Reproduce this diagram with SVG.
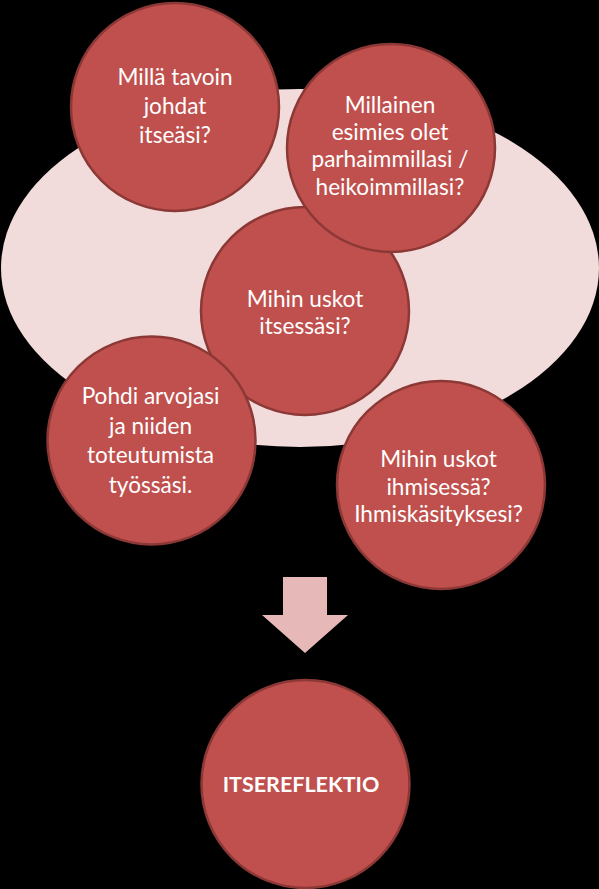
<svg xmlns="http://www.w3.org/2000/svg" width="599" height="889" viewBox="0 0 599 889">
<style>
.bg{fill:#000000}
.ell{fill:#f2dcdb}
.c{fill:#c0504d;stroke:#8c3836;stroke-width:2.5}
.t{font-family:Lato,"Liberation Sans",sans-serif;font-size:22.6px;fill:#ffffff;text-anchor:middle}
.b{font-weight:bold;font-size:21.5px}
.arrow{fill:#e6b9b8}
</style>
<rect class="bg" x="0" y="0" width="599" height="889"/>
<g id="background-ellipse">
<ellipse class="ell" cx="300" cy="268" rx="299" ry="179"/>
</g>
<g id="node-itsessasi">
<circle class="c" cx="305" cy="311" r="104"/>
<text class="t" x="305" y="307">Mihin uskot</text>
<text class="t" x="305" y="334">itsessäsi?</text>
</g>
<g id="node-johdat">
<circle class="c" cx="175" cy="107" r="104"/>
<text class="t" x="175" y="85">Millä tavoin</text>
<text class="t" x="175" y="114">johdat</text>
<text class="t" x="175" y="143">itseäsi?</text>
</g>
<g id="node-esimies">
<circle class="c" cx="391" cy="148" r="104"/>
<text class="t" x="390" y="113">Millainen</text>
<text class="t" x="390" y="140">esimies olet</text>
<text class="t" x="390" y="167">parhaimmillasi /</text>
<text class="t" x="390" y="195">heikoimmillasi?</text>
</g>
<g id="node-arvot">
<circle class="c" cx="151.5" cy="440.5" r="104"/>
<text class="t" x="150.5" y="404">Pohdi arvojasi</text>
<text class="t" x="150.5" y="433.5">ja niiden</text>
<text class="t" x="150.5" y="463">toteutumista</text>
<text class="t" x="150.5" y="492.5">työssäsi.</text>
</g>
<g id="node-ihminen">
<circle class="c" cx="441" cy="485" r="104"/>
<text class="t" x="438.5" y="467">Mihin uskot</text>
<text class="t" x="438.5" y="495">ihmisessä?</text>
<text class="t" x="438.5" y="522">Ihmiskäsityksesi?</text>
</g>
<g id="connectors">
<polygon class="arrow" points="283,577 327,577 327,615 348,615 305,653 262,615 283,615"/>
</g>
<g id="node-itsereflektio">
<circle class="c" cx="305.5" cy="784" r="104"/>
<text class="t b" x="301" y="792">ITSEREFLEKTIO</text>
</g>
</svg>
